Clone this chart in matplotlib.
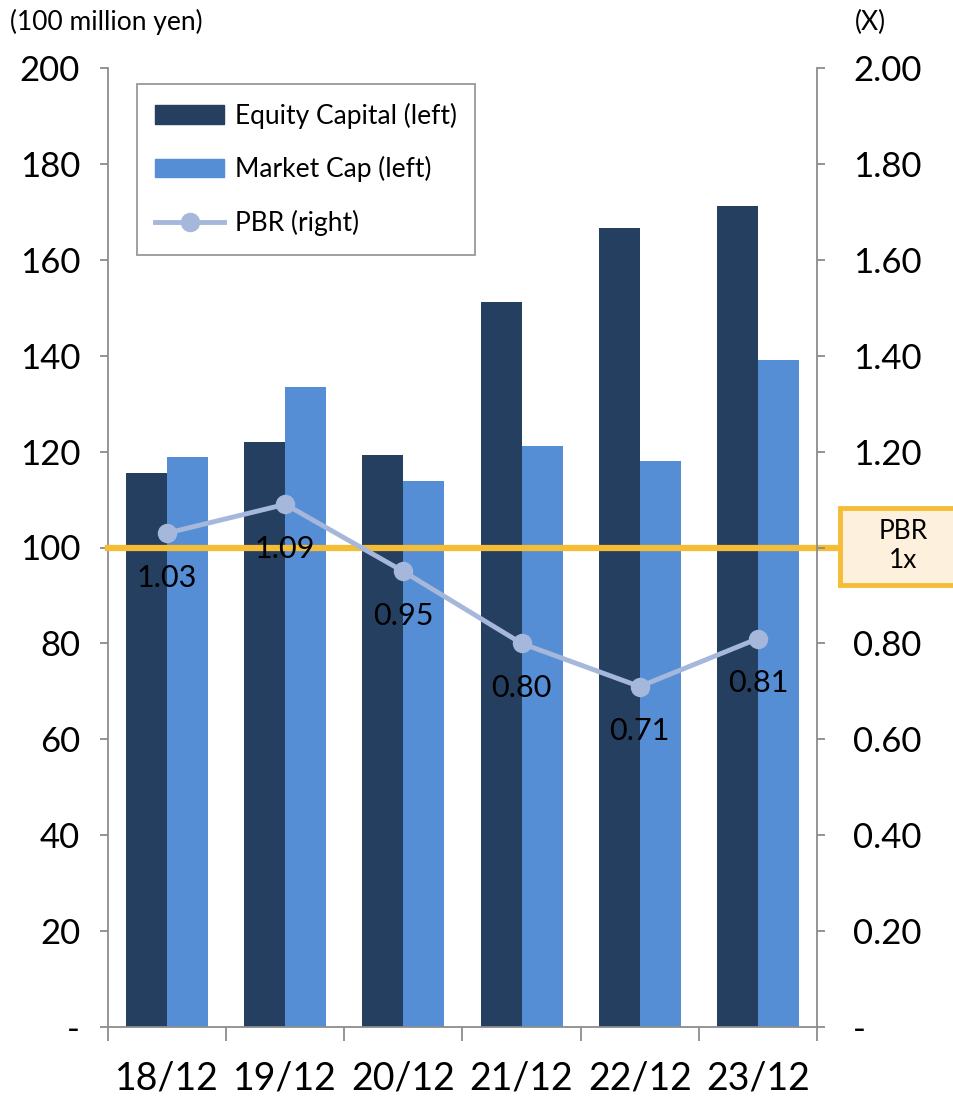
import matplotlib
matplotlib.use("Agg")
import matplotlib.pyplot as plt
import numpy as np
from matplotlib.patches import Patch, Rectangle
from matplotlib.lines import Line2D

plt.rcParams["font.family"] = ["Lato", "DejaVu Sans"]

periods = ["18/12", "19/12", "20/12", "21/12", "22/12", "23/12"]
equity_capital = [115.5, 122.0, 119.3, 151.3, 166.6, 171.2]
market_cap = [118.9, 133.4, 113.9, 121.2, 118.0, 139.0]
pbr = [1.03, 1.09, 0.95, 0.80, 0.71, 0.81]
pbr_labels = ["1.03", "1.09", "0.95", "0.80", "0.71", "0.81"]

left_ticks = [0, 20, 40, 60, 80, 100, 120, 140, 160, 180, 200]
right_ticks = [0, 0.2, 0.4, 0.6, 0.8, 1.0, 1.2, 1.4, 1.6, 1.8, 2.0]

NAVY = "#253F60"
BLUE = "#558ED5"
PBR_C = "#A5B7DA"
GOLD = "#F5BD35"
GRID = "#8C8C8C"

W, H = 954, 1099
fig = plt.figure(figsize=(W / 100, H / 100), dpi=100)
ax = fig.add_axes([108 / W, 1 - 1027 / H, (817 - 108) / W, (1027 - 68) / H])

x = np.arange(len(periods))
bw = 0.347
ax.bar(x - bw / 2, equity_capital, bw, color=NAVY, zorder=2)
ax.bar(x + bw / 2, market_cap, bw, color=BLUE, zorder=2)

ax.set_xlim(-0.5, len(periods) - 0.5)
ax.set_ylim(0, 200)
ax.set_yticks(left_ticks)
ax.set_yticklabels(["-"] + [str(v) for v in left_ticks[1:]], fontsize=25)
ax.set_xticks(x)
ax.set_xticklabels(periods, fontsize=27)
ax.tick_params(axis="x", length=0, pad=24)
ax.set_xticks(np.arange(-0.5, len(periods)), minor=True)
ax.tick_params(axis="x", which="minor", length=10, width=1.3, color=GRID)
ax.tick_params(axis="y", length=6, width=1.3, color=GRID, pad=14)

for s in ["top", "right"]:
    ax.spines[s].set_visible(False)
for s in ["left", "bottom"]:
    ax.spines[s].set_color(GRID)
    ax.spines[s].set_linewidth(1.3)

# PBR 1x reference line
ax.axhline(100, xmin=0, xmax=1.04, color=GOLD, lw=4.5, zorder=3, clip_on=False)

ax2 = ax.twinx()
ax2.set_ylim(0, 2.0)
ax2.set_yticks(right_ticks)
# the 1.00 label sits behind the "PBR 1x" box in the original
right_labels = ["-"] + [f"{v:.2f}" for v in right_ticks[1:]]
right_labels[5] = ""
ax2.set_yticklabels(right_labels, fontsize=25)
ax2.tick_params(axis="y", length=6, width=1.3, color=GRID, pad=20)
for s in ["top", "left", "bottom"]:
    ax2.spines[s].set_visible(False)
ax2.spines["right"].set_color(GRID)
ax2.spines["right"].set_linewidth(1.3)

ax2.plot(x, pbr, color=PBR_C, lw=3.5, marker="o", ms=13, zorder=4)
for xi, v, lab in zip(x, pbr, pbr_labels):
    ax2.annotate(lab, (xi, v), xytext=(0, -32), textcoords="offset points",
                 ha="center", va="center", fontsize=22, zorder=5)

fig.text(10 / W, 1 - 22 / H, "(100 million yen)", fontsize=19, va="center", ha="left")
fig.text(870 / W, 1 - 22 / H, "(X)", fontsize=19, va="center", ha="center")

# "PBR 1x" callout box
box = Rectangle((840 / W, 1 - 585 / H), 130 / W, 77 / H, transform=fig.transFigure,
                facecolor="#FDF0DC", edgecolor=GOLD, lw=3.5, zorder=20, clip_on=False)
fig.patches.append(box)
fig.text(903 / W, 1 - 546 / H, "PBR\n1x", fontsize=19, ha="center", va="center",
         linespacing=1.2, zorder=21)

handles = [Patch(color=NAVY), Patch(color=BLUE),
           Line2D([0], [0], color=PBR_C, lw=3.5, marker="o", ms=13)]
leg = ax.legend(handles, ["Equity Capital (left)", "Market Cap (left)", "PBR (right)"],
                loc="upper left", bbox_to_anchor=((137 - 108) / (817 - 108), 1 - 16 / 959),
                fontsize=19, frameon=True, fancybox=False, edgecolor="#7F7F7F",
                borderpad=0.7, labelspacing=1.05, handlelength=2.6, handletextpad=0.4,
                borderaxespad=0)
leg.get_frame().set_linewidth(1.3)
leg.set_zorder(10)

fig.savefig("out.png", dpi=100)
